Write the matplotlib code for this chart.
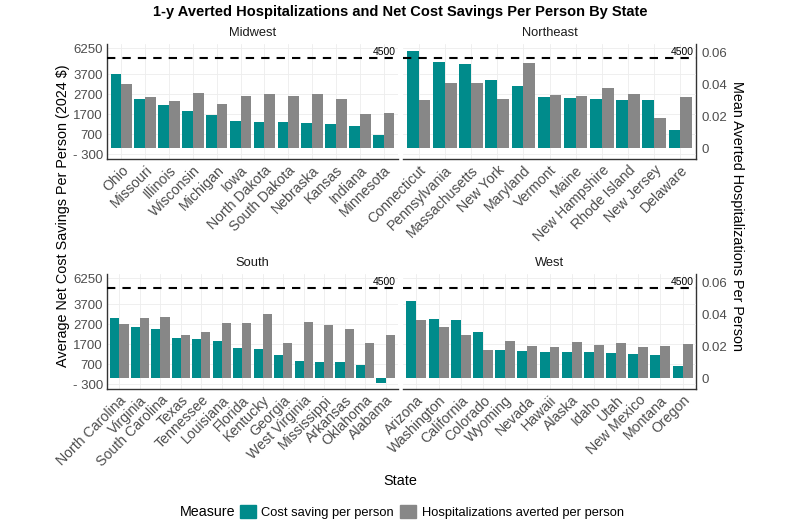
import numpy as np
import matplotlib
matplotlib.use("Agg")
import matplotlib.pyplot as plt
from matplotlib.patches import Patch
from matplotlib.transforms import blended_transform_factory

plt.rcParams['font.family'] = ['Liberation Sans', 'DejaVu Sans']

# data
midwest_states = ['Ohio', 'Missouri', 'Illinois', 'Wisconsin', 'Michigan', 'Iowa', 'North Dakota',
                  'South Dakota', 'Nebraska', 'Kansas', 'Indiana', 'Minnesota']
midwest_cost = [3710, 2450, 2180, 1880, 1680, 1350, 1330, 1300, 1265, 1230, 1100, 665]
midwest_hosp = [0.0400, 0.0323, 0.0298, 0.0344, 0.0279, 0.0329, 0.0338, 0.0327, 0.0341, 0.0310, 0.0216, 0.0223]

northeast_states = ['Connecticut', 'Pennsylvania', 'Massachusetts', 'New York', 'Maryland', 'Vermont',
                    'Maine', 'New Hampshire', 'Rhode Island', 'New Jersey', 'Delaware']
northeast_cost = [4880, 4330, 4200, 3415, 3115, 2580, 2530, 2450, 2415, 2400, 930]
northeast_hosp = [0.0302, 0.0406, 0.0406, 0.0310, 0.0535, 0.0331, 0.0327, 0.0379, 0.0338, 0.0191, 0.0323]

south_states = ['North Carolina', 'Virginia', 'South Carolina', 'Texas', 'Tennessee', 'Louisiana', 'Florida',
                'Kentucky', 'Georgia', 'West Virginia', 'Mississippi', 'Arkansas', 'Oklahoma', 'Alabama']
south_cost = [3015, 2560, 2445, 2005, 1990, 1870, 1515, 1465, 1180, 860, 830, 810, 690, -217]
south_hosp = [0.0343, 0.0375, 0.0385, 0.0274, 0.0289, 0.0345, 0.0347, 0.0400, 0.0224, 0.0354, 0.0333,
              0.0306, 0.0219, 0.0271]

west_states = ['Arizona', 'Washington', 'California', 'Colorado', 'Wyoming', 'Nevada', 'Hawaii', 'Alaska',
               'Idaho', 'Utah', 'New Mexico', 'Montana', 'Oregon']
west_cost = [3880, 2955, 2940, 2300, 1400, 1375, 1325, 1300, 1300, 1270, 1200, 1185, 615]
west_hosp = [0.0367, 0.0319, 0.0270, 0.0180, 0.0235, 0.0205, 0.0199, 0.0226, 0.0207, 0.0224, 0.0197,
             0.0203, 0.0218]

threshold = 4500
left_ticks = [-300, 700, 1700, 2700, 3700, 5000]
left_labels = ['- 300', '700', '1700', '2700', '3700', '6250']
right_ticks = [0, 0.02, 0.04, 0.06]
right_labels = ['0', '0.02', '0.04', '0.06']
scale = 80000  # hospitalizations -> $ axis

teal = '#008b8b'
grey = '#878787'
txt_grey = '#4d4d4d'

panels = [
    ('Midwest', midwest_states, midwest_cost, midwest_hosp, [107, 44, 398, 159], 'left'),
    ('Northeast', northeast_states, northeast_cost, northeast_hosp, [403, 44, 696, 159], 'right'),
    ('South', south_states, south_cost, south_hosp, [107, 274, 398, 389], 'left'),
    ('West', west_states, west_cost, west_hosp, [403, 274, 696, 389], 'right'),
]

W, H = 800, 530
fig = plt.figure(figsize=(8, 5.3), dpi=100)

for name, states, cost, hosp, box, side in panels:
    x0, y0, x1, y1 = box
    ax = fig.add_axes([x0 / W, 1 - y1 / H, (x1 - x0) / W, (y1 - y0) / H])
    x = np.arange(len(states))
    ax.bar(x - 0.225, cost, width=0.45, color=teal, zorder=2)
    ax.bar(x + 0.225, np.array(hosp) * scale, width=0.45, color=grey, zorder=2)
    ax.axhline(threshold, color='black', lw=1.5, ls=(0, (4, 3.4)), zorder=3)
    tr = blended_transform_factory(ax.transAxes, ax.transData)
    ax.text(0.993, threshold + 60, str(threshold), transform=tr, ha='right', va='bottom', fontsize=7.5, color='black')

    ax.set_xlim(-0.6, len(states) - 0.4)
    ax.set_ylim(-530, 5220)
    ax.set_xticks(x)
    ax.set_xticklabels(states, rotation=45, ha='right', va='top', rotation_mode='anchor',
                       fontsize=10.2, color=txt_grey)
    ax.set_yticks(left_ticks)
    ax.grid(True, color='#ededed', lw=0.6, zorder=0)
    ax.set_axisbelow(True)
    ax.tick_params(length=0, pad=3)
    for s in ax.spines.values():
        s.set_visible(False)
    ax.spines['bottom'].set_visible(True)
    ax.spines['bottom'].set_color('#333333')
    ax.spines['bottom'].set_linewidth(1.0)

    if side == 'left':
        ax.set_yticklabels(left_labels, fontsize=9.5, color=txt_grey)
        ax.spines['left'].set_visible(True)
        ax.spines['left'].set_color('#333333')
        ax.spines['left'].set_linewidth(1.0)
    else:
        ax.set_yticklabels([])
        sec = ax.secondary_yaxis('right', functions=(lambda v: v / scale, lambda h: h * scale))
        sec.set_yticks(right_ticks)
        sec.set_yticklabels(right_labels, fontsize=9.5, color=txt_grey)
        sec.tick_params(length=0, pad=4)
        sec.spines['right'].set_color('#333333')
        sec.spines['right'].set_linewidth(1.0)

    ax.text(0.5, 1.04, name, transform=ax.transAxes, ha='center', va='bottom', fontsize=9.3, color='#1a1a1a')

fig.text(0.5, 1 - 12 / H, '1-y Averted Hospitalizations and Net Cost Savings Per Person By State',
         ha='center', va='center', fontsize=10.5, fontweight='bold')
fig.text(63 / W, 1 - 216 / H, 'Average Net Cost Savings Per Person (2024 $)', rotation=90,
         ha='center', va='center', fontsize=10.4)
fig.text(737 / W, 1 - 216 / H, 'Mean Averted Hospitalizations Per Person', rotation=270,
         ha='center', va='center', fontsize=10.4)
fig.text(0.5, 1 - 481 / H, 'State', ha='center', va='center', fontsize=10.4)

fig.text(180 / W, 1 - 512 / H, 'Measure', ha='left', va='center', fontsize=10.3)
handles = [Patch(color=teal, label='Cost saving per person'),
           Patch(color=grey, label='Hospitalizations averted per person')]
fig.legend(handles=handles, loc='center left', bbox_to_anchor=(240 / W, 1 - 512 / H), ncol=2,
           frameon=False, fontsize=9.3, handlelength=1.2, handleheight=1.2, handletextpad=0.45,
           columnspacing=0.5, borderpad=0, borderaxespad=0)

fig.savefig('out.png', dpi=100)
